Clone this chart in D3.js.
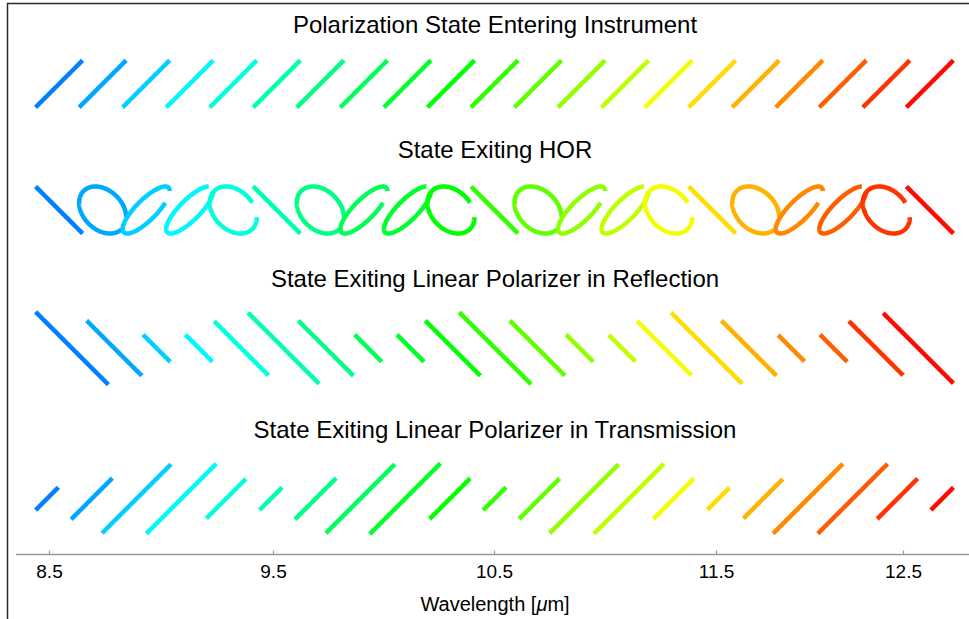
<!DOCTYPE html>
<html>
<head>
<meta charset="utf-8">
<script src="https://cdn.jsdelivr.net/npm/d3@7"></script>
<style>
  html, body { margin: 0; padding: 0; background: #fff; }
  svg { display: block; font-family: "Liberation Sans", Arial, Helvetica, sans-serif; }
</style>
</head>
<body>
<svg id="chart" width="969" height="619"></svg>
<script>
// ---------------- DATA ----------------
const sampleIndex = [0,1,2,3,4,5,6,7,8,9,10,11,12,13,14,15,16,17,18,19,20];

// field amplitude (relative to sample spacing) entering the instrument, linear +45°
const inputAmplitude = [0.54,0.54,0.54,0.54,0.54,0.54,0.54,0.54,0.54,0.54,0.54,
                        0.54,0.54,0.54,0.54,0.54,0.54,0.54,0.54,0.54,0.54];

// retardance of the HOR at each sample (degrees)
const horRetardanceDeg = [180,252,324,36,108, 180,252,324,36,108,
                          180,252,324,36,108, 180,252,324,36,108, 180];

// amplitude of the -45° state reflected by the linear polarizer
const reflectedAmplitude = [0.86,0.65,0.32,0.32,0.64, 0.84,0.65,0.32,0.32,0.65,
                            0.85,0.65,0.32,0.31,0.64, 0.84,0.65,0.31,0.32,0.64, 0.83];

// amplitude of the +45° state transmitted by the linear polarizer
const transmittedAmplitude = [0.255,0.46,0.77,0.78,0.44, 0.25,0.46,0.77,0.79,0.45,
                              0.255,0.45,0.77,0.78,0.45, 0.245,0.44,0.78,0.78,0.45, 0.25];

const rowTitles = [
  "Polarization State Entering Instrument",
  "State Exiting HOR",
  "State Exiting Linear Polarizer in Reflection",
  "State Exiting Linear Polarizer in Transmission"
];

const tickValues = [8.5, 9.5, 10.5, 11.5, 12.5];
const tickLabels = ["8.5", "9.5", "10.5", "11.5", "12.5"];
const axisTitle = "Wavelength [";

// ---------------- LAYOUT ----------------
const W = 969, H = 619;
const plotLeft = 34, plotRight = 955;
const strokeW = 4.5;
const capPad = strokeW / 2 * Math.SQRT1_2;
const rowCenters = [83.8, 210, 348.2, 498.7];
const titleBaselines = [33, 158, 287, 438];
const titleX = 495;
const axisY = 554;
const tickPx = [49, 273, 494, 716, 903];
const traceFraction = 0.9;

const svg = d3.select("#chart");

// frame (partially visible)
svg.append("path")
  .attr("d", `M7.5,${H} V3.5 H${W}`)
  .attr("fill", "none")
  .attr("stroke", "#2a2a2a")
  .attr("stroke-width", 1.5);

// colour by sample
const hueScale = d3.scaleLinear().domain([0, 3, 9, 15, 20]).range([210, 182, 120, 52, 2]);
const colorOf = i => d3.hsl(hueScale(i), 1, 0.5).toString();

// build rows: each state is Ex = ax cos t, Ey = ay cos(t + phase)
const rows = [
  sampleIndex.map(i => ({ i, ax: inputAmplitude[i], ay: inputAmplitude[i], phase: 0, full: false })),
  sampleIndex.map(i => ({ i, ax: inputAmplitude[i], ay: inputAmplitude[i], phase: horRetardanceDeg[i], full: true })),
  sampleIndex.map(i => ({ i, ax: reflectedAmplitude[i], ay: reflectedAmplitude[i], phase: 180, full: false })),
  sampleIndex.map(i => ({ i, ax: transmittedAmplitude[i], ay: transmittedAmplitude[i], phase: 0, full: false }))
];

const lineGen = d3.line().x(d => d[0]).y(d => d[1]);

rows.forEach((states, r) => {
  const first = states[0], last = states[states.length - 1];
  const x = d3.scaleLinear()
    .domain([sampleIndex[0] - first.ax, sampleIndex[sampleIndex.length - 1] + last.ax])
    .range([plotLeft + capPad, plotRight - capPad]);
  const k = (x.range()[1] - x.range()[0]) / (x.domain()[1] - x.domain()[0]);
  const y = d3.scaleLinear().domain([-1, 1]).range([rowCenters[r] + k, rowCenters[r] - k]);

  const g = svg.append("g");
  g.append("text")
    .attr("x", titleX).attr("y", titleBaselines[r])
    .attr("text-anchor", "middle")
    .attr("font-size", 24)
    .attr("fill", "#000")
    .text(rowTitles[r]);

  g.selectAll("path.state")
    .data(states)
    .join("path")
    .attr("class", "state")
    .attr("fill", "none")
    .attr("stroke", d => colorOf(d.i))
    .attr("stroke-width", strokeW)
    .attr("stroke-linecap", "butt")
    .attr("stroke-linejoin", "bevel")
    .attr("d", d => {
      const tMax = d.full ? traceFraction * 2 * Math.PI : Math.PI;
      const n = 240;
      const ph = d.phase * Math.PI / 180;
      const pts = d3.range(n + 1).map(j => {
        const t = tMax * j / n;
        return [x(d.i + d.ax * Math.cos(t)), y(d.ay * Math.cos(t + ph))];
      });
      return lineGen(pts);
    });
});

// ---------------- AXIS ----------------
const xAxisScale = d3.scaleLinear().domain(tickValues).range(tickPx);
svg.append("line")
  .attr("x1", 16).attr("x2", W)
  .attr("y1", axisY + 0.5).attr("y2", axisY + 0.5)
  .attr("stroke", "#9a9a9a").attr("stroke-width", 1.4);

const axisG = svg.append("g")
  .attr("transform", `translate(0,${axisY + 0.5})`)
  .call(d3.axisBottom(xAxisScale)
    .tickValues(tickValues)
    .tickFormat((d, i) => tickLabels[i])
    .tickSizeInner(-4)
    .tickSizeOuter(0)
    .tickPadding(10));
axisG.select(".domain").remove();
axisG.selectAll(".tick line").attr("stroke", "#9a9a9a").attr("stroke-width", 1.2);
axisG.selectAll(".tick text")
  .attr("font-size", 19)
  .attr("font-family", "Liberation Sans, Arial, sans-serif")
  .attr("fill", "#000");

const at = svg.append("text")
  .attr("x", titleX).attr("y", 611)
  .attr("text-anchor", "middle")
  .attr("font-size", 20)
  .attr("fill", "#000");
at.append("tspan").text(axisTitle);
at.append("tspan").attr("font-style", "italic").text("\u03bc");
at.append("tspan").text("m]");
</script>
</body>
</html>
